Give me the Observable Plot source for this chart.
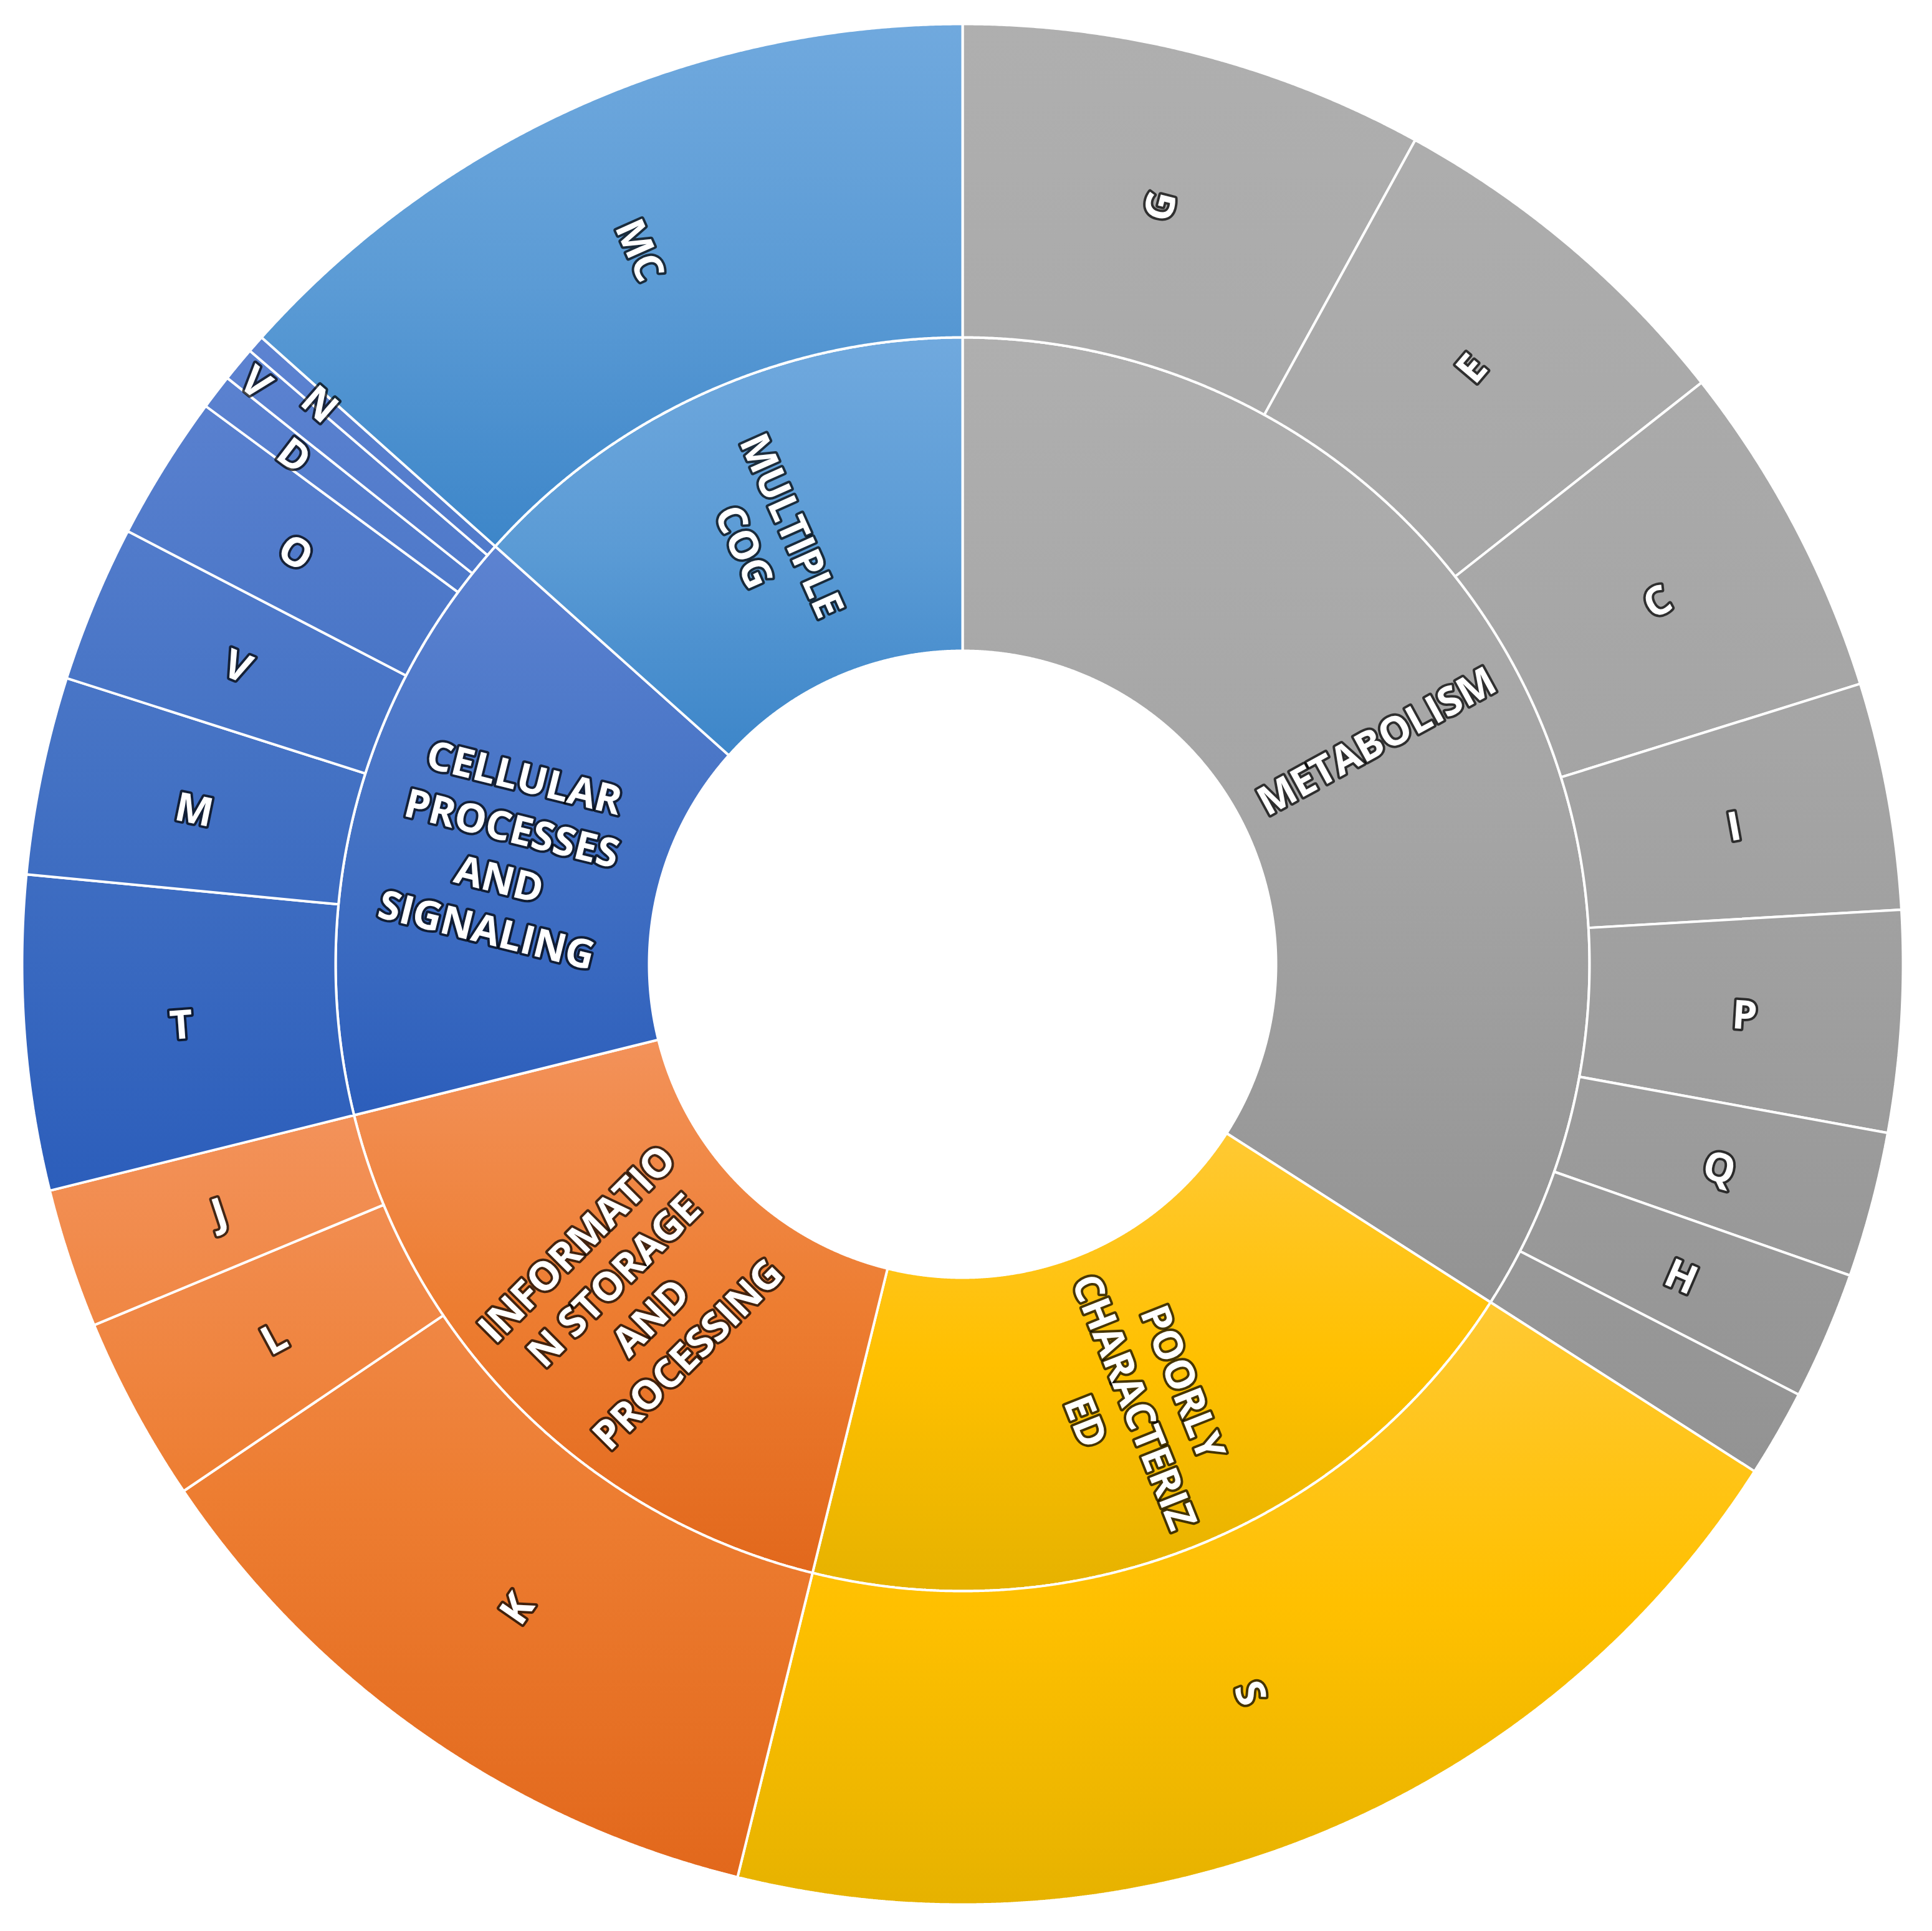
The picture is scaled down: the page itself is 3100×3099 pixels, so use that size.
<!DOCTYPE html>
<html>
<head>
<meta charset="utf-8">
<script src="https://cdn.jsdelivr.net/npm/d3@7"></script>
<script src="https://cdn.jsdelivr.net/npm/@observablehq/plot@0.6"></script>
<style>
html,body{margin:0;padding:0;background:#ffffff;overflow:hidden}
#chart svg{display:block}
</style>
</head>
<body>
<div id="chart"></div>
<script>
// ---------- DATA ----------
const categories = ["METABOLISM", "POORLY CHARACTERIZED", "INFORMATION STORAGE AND PROCESSING", "CELLULAR PROCESSES AND SIGNALING", "MULTIPLE COG"];
const categoryLabels = ["METABOLISM", "POORLY\nCHARACTERIZ\nED", "INFORMATIO\nN STORAGE\nAND\nPROCESSING", "CELLULAR\nPROCESSES\nAND\nSIGNALING", "MULTIPLE\nCOG"];
const subCategories = ["G", "E", "C", "I", "P", "Q", "H", "", "S", "K", "L", "J", "T", "M", "V", "O", "D", "V", "N", "MC"];
const subParents   = [0, 0, 0, 0, 0, 0, 0, 0, 1, 2, 2, 2, 3, 3, 3, 3, 3, 3, 3, 4];
const subValues    = [80, 64, 58, 39, 38, 25, 22, 15, 198, 117, 32, 24, 54, 34, 27, 25, 6, 6, 3, 134];

// ---------- STYLE ----------
const palette = [
  ["#AFAFAF", "#A5A5A5", "#939393"],
  ["#FFC933", "#FFC000", "#E6B200"],
  ["#F3925A", "#ED7D31", "#E2681C"],
  ["#5D83D1", "#4472C4", "#2C5EBB"],
  ["#70A9DE", "#5B9BD5", "#3D86C9"]
];
const labelRadiusOverride = {16: 2.68, 17: 2.92, 18: 2.72};
const R_IN = 1, R_MID = 2, R_OUT = 3;

// ---------- LAYOUT (from data) ----------
const total = d3.sum(subValues);
let acc = 0;
const outer = subCategories.map((name, i) => {
  const a0 = acc / total * 360;
  acc += subValues[i];
  return {idx: i, id: "o" + i, name, parent: subParents[i], a0, a1: acc / total * 360};
});
const inner = categories.map((c, j) => {
  const kids = outer.filter(d => d.parent === j);
  return {idx: j, id: "i" + j, name: categoryLabels[j], parent: j, a0: kids[0].a0, a1: kids[kids.length - 1].a1};
});

function arcPoints(s, r0, r1, ring) {
  const n = Math.max(2, Math.ceil((s.a1 - s.a0) / 0.15));
  const pts = [];
  for (let k = 0; k <= n; k++) {
    const a = (s.a0 + (s.a1 - s.a0) * k / n) * Math.PI / 180;
    pts.push({id: s.id, parent: s.parent, ring, x: r1 * Math.sin(a), y: r1 * Math.cos(a)});
  }
  for (let k = n; k >= 0; k--) {
    const a = (s.a0 + (s.a1 - s.a0) * k / n) * Math.PI / 180;
    pts.push({id: s.id, parent: s.parent, ring, x: r0 * Math.sin(a), y: r0 * Math.cos(a)});
  }
  pts.push({...pts[0]});
  return pts;
}

const innerPts = inner.flatMap(s => arcPoints(s, R_IN, R_MID, "in"));
const outerPts = outer.flatMap(s => arcPoints(s, R_MID, R_OUT, "out"));
const allPts = innerPts.concat(outerPts);

function labelOf(s, r) {
  const m = (s.a0 + s.a1) / 2;
  const a = m * Math.PI / 180;
  const rot = m < 180 ? m - 90 : m + 90 - 360;
  return {text: s.name, x: r * Math.sin(a), y: r * Math.cos(a), rotate: rot};
}
const labels = inner.map(s => labelOf(s, (R_IN + R_MID) / 2))
  .concat(outer.filter(s => s.name !== "").map(s => labelOf(s, labelRadiusOverride[s.idx] ?? (R_MID + R_OUT) / 2)));

// ---------- PLOT ----------
const W = 3100, H = 3099;
const pxPerUnit = 503, cx = 1544, cy = 1547;

const marks = [];
for (const ring of ["in", "out"]) {
  for (let j = 0; j < categories.length; j++) {
    marks.push(Plot.line(allPts.filter(p => p.ring === ring && p.parent === j), {
      x: "x", y: "y", z: "id",
      fill: `url(#grad-${ring}-${j})`,
      stroke: "white", strokeWidth: 4, strokeLinejoin: "miter", curve: "linear"
    }));
  }
}
marks.push(Plot.text(labels, {
  x: "x", y: "y", text: "text", rotate: "rotate",
  fontSize: 64, fontWeight: 700, fontFamily: "Open Sans",
  fill: "white", stroke: "black", strokeOpacity: 0.72, strokeWidth: 8,
  strokeLinejoin: "round", paintOrder: "stroke", lineHeight: 1.31,
  textAnchor: "middle"
}));

const chart = Plot.plot({
  width: W, height: H,
  margin: 0,
  x: {domain: [-cx / pxPerUnit, (W - cx) / pxPerUnit], axis: null},
  y: {domain: [-(H - cy) / pxPerUnit, cy / pxPerUnit], axis: null},
  style: {background: "white"},
  marks
});

// gradients: one per category and ring, spanning the group's vertical extent
const yScale = chart.scale("y");
const svg = d3.select(chart);
const defs = svg.insert("defs", ":first-child");
for (const ring of ["in", "out"]) {
  for (let j = 0; j < categories.length; j++) {
    const pts = allPts.filter(p => p.ring === ring && p.parent === j);
    const top = yScale.apply(d3.max(pts, p => p.y));
    const bottom = yScale.apply(d3.min(pts, p => p.y));
    const g = defs.append("linearGradient")
      .attr("id", `grad-${ring}-${j}`)
      .attr("gradientUnits", "userSpaceOnUse")
      .attr("x1", 0).attr("x2", 0).attr("y1", top).attr("y2", bottom);
    g.append("stop").attr("offset", "0%").attr("stop-color", palette[j][0]);
    g.append("stop").attr("offset", "50%").attr("stop-color", palette[j][1]);
    g.append("stop").attr("offset", "100%").attr("stop-color", palette[j][2]);
  }
}

document.getElementById("chart").appendChild(chart);
</script>
</body>
</html>
